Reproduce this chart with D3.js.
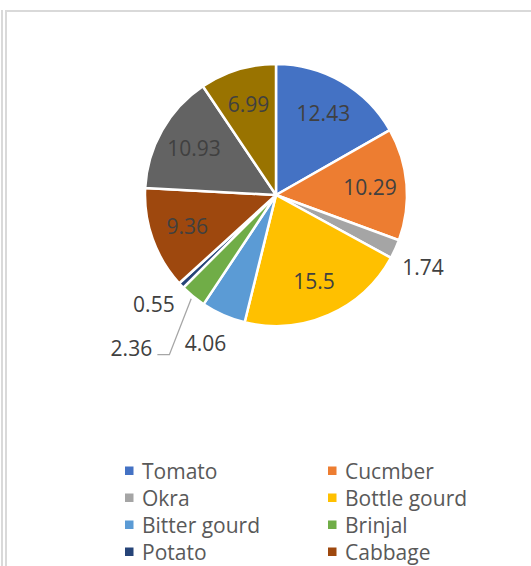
<!DOCTYPE html>
<html>
<head>
<meta charset="utf-8">
<script src="https://cdn.jsdelivr.net/npm/d3@7"></script>
<style>
  html, body { margin: 0; padding: 0; background: #fff; overflow: hidden; }
  svg { display: block; }
  text { font-family: "Open Sans", "Noto Sans", sans-serif; }
</style>
</head>
<body>
<svg id="chart" width="531" height="566"></svg>
<script>
// Vegetable shares
const categories = ["Tomato", "Cucmber", "Okra", "Bottle gourd", "Bitter gourd",
                    "Brinjal", "Potato", "Cabbage", "Cauliflower", "Onion"];
const values = [12.43, 10.29, 1.74, 15.5, 4.06, 2.36, 0.55, 9.36, 10.93, 6.99];
const colors = ["#4472C4", "#ED7D31", "#A5A5A5", "#FFC000", "#5B9BD5",
                "#70AD47", "#264478", "#9E480E", "#636363", "#997300"];
// labels drawn outside the pie (small slices)
const outsideLabels = ["Okra", "Bitter gourd", "Potato", "Brinjal"];
// label pulled further out with a leader line
const leaderLabel = "Brinjal";

const data = categories.map((c, i) => ({ name: c, value: values[i], color: colors[i] }));

const svg = d3.select("#chart");
const W = 531, H = 566;

// chart area frame
const frame = svg.append("g").attr("fill", "none").attr("stroke", "#d9d9d9").attr("stroke-width", 2);
frame.append("line").attr("x1", 2).attr("x2", 2).attr("y1", 10).attr("y2", H);
frame.append("line").attr("x1", 6).attr("x2", 6).attr("y1", 10).attr("y2", H);
frame.append("line").attr("x1", 5).attr("x2", W).attr("y1", 11).attr("y2", 11);

const cx = 276, cy = 195, R = 131;

const pie = d3.pie().value(d => d.value).sort(null);
const arcs = pie(data);
const arc = d3.arc().innerRadius(0).outerRadius(R);

const g = svg.append("g").attr("transform", `translate(${cx},${cy})`);

g.selectAll("path.slice")
  .data(arcs)
  .enter().append("path")
  .attr("class", "slice")
  .attr("d", arc)
  .attr("fill", d => d.data.color)
  .attr("stroke", "#fff")
  .attr("stroke-width", 2.5)
  .attr("stroke-linejoin", "round");

const deg = Math.PI / 180;
const mid = d => (d.startAngle + d.endAngle) / 2;
const polar = (a, r) => [Math.sin(a) * r, -Math.cos(a) * r];

const insideArc = d3.arc().innerRadius(R * 0.72).outerRadius(R * 0.72);

const labels = g.append("g")
  .attr("font-size", 21)
  .attr("fill", "#404040")
  .attr("text-anchor", "middle");

arcs.forEach(d => {
  let pos;
  if (d.data.name === leaderLabel) {
    const a = mid(d);
    const start = polar(a, R + 3);
    pos = polar(a + 4 * deg, R + 80);
    const lineY = pos[1] + 6;
    const elbowX = pos[0] + 38;
    g.append("polyline")
      .attr("points", [start, [elbowX, lineY], [pos[0] + 26, lineY]].map(p => p.join(",")).join(" "))
      .attr("fill", "none")
      .attr("stroke", "#a6a6a6")
      .attr("stroke-width", 1.3);
  } else if (outsideLabels.includes(d.data.name)) {
    pos = polar(mid(d) + 1.8 * deg, R + 33);
  } else {
    pos = insideArc.centroid(d);
  }
  labels.append("text")
    .attr("x", pos[0])
    .attr("y", pos[1])
    .attr("dy", "0.36em")
    .text(d.data.value);
});

// legend, two columns; rows that do not fit inside the chart area are left out
const legend = svg.append("g").attr("font-size", 21).attr("fill", "#595959");
const colX = [125, 328], row0 = 471, rowStep = 27;
data.forEach((d, i) => {
  const x = colX[i % 2], y = row0 + Math.floor(i / 2) * rowStep;
  if (y + 14 > H) return;
  legend.append("rect")
    .attr("x", x).attr("y", y - 4.5)
    .attr("width", 8.5).attr("height", 8.5)
    .attr("fill", d.color);
  legend.append("text")
    .attr("x", x + 17).attr("y", y)
    .attr("dy", "0.36em")
    .text(d.name);
});
</script>
</body>
</html>
